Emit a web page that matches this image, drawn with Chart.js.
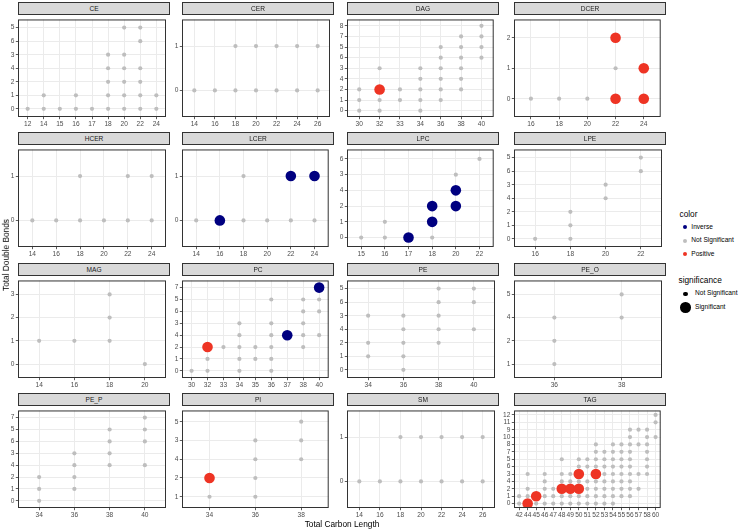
<!DOCTYPE html>
<html><head><meta charset="utf-8">
<script src="https://cdn.jsdelivr.net/npm/chart.js@4"></script>
<style>
body{margin:0;width:740px;height:530px;background:#fff;position:relative;overflow:hidden;font-family:'Liberation Sans',Arial,Helvetica,sans-serif;}
.strip{position:absolute;background:#D9D9D9;border:1px solid #333;box-sizing:border-box;font-size:6.6px;color:#1A1A1A;text-align:center;z-index:2;}
canvas{position:absolute;}
.t{position:absolute;white-space:nowrap;color:#000;z-index:3;}
.dot{position:absolute;border-radius:50%;z-index:3;}
</style></head><body>
<script>
// ---- data: carbon categories, double-bond levels (in the plot's factor order, bottom to top),
//      non-significant points [carbon, [bonds...]], significant points [carbon, bonds, direction] ----
const CE_x = [12,14,15,16,17,18,20,22,24];
const CE_y = [0,1,2,4,3,6,5];
const CE_ns = [[12,[0]],[14,[0,1]],[15,[0]],[16,[0,1]],[17,[0]],[18,[0,1,2,3,4]],[20,[0,1,2,3,4,5]],[22,[0,1,2,4,5,6]],[24,[0,1]]];
const CE_sig = [];

const CER_x = [14,16,18,20,22,24,26];
const CER_y = [0,1];
const CER_ns = [[14,[0]],[16,[0]],[18,[0,1]],[20,[0,1]],[22,[0,1]],[24,[0,1]],[26,[0,1]]];
const CER_sig = [];

const DAG_x = [30,32,33,34,36,38,40];
const DAG_y = [0,1,2,4,3,6,5,7,8];
const DAG_ns = [[30,[0,1,2]],[32,[0,1,3]],[33,[1,2]],[34,[0,1,2,3,4]],[36,[1,2,3,4,5,6]],[38,[2,3,4,5,6,7]],[40,[5,6,7,8]]];
const DAG_sig = [[32,2,'Positive']];

const DCER_x = [16,18,20,22,24];
const DCER_y = [0,1,2];
const DCER_ns = [[16,[0]],[18,[0]],[20,[0]],[22,[1]]];
const DCER_sig = [[22,0,'Positive'],[22,2,'Positive'],[24,0,'Positive'],[24,1,'Positive']];

const HCER_x = [14,16,18,20,22,24];
const HCER_y = [0,1];
const HCER_ns = [[14,[0]],[16,[0]],[18,[0,1]],[20,[0]],[22,[0,1]],[24,[0,1]]];
const HCER_sig = [];

const LCER_x = [14,16,18,20,22,24];
const LCER_y = [0,1];
const LCER_ns = [[14,[0]],[18,[0,1]],[20,[0]],[22,[0]],[24,[0]]];
const LCER_sig = [[16,0,'Inverse'],[22,1,'Inverse'],[24,1,'Inverse']];

const LPC_x = [15,16,17,18,20,22];
const LPC_y = [0,1,2,4,3,6];
const LPC_ns = [[15,[0]],[16,[0,1]],[18,[0]],[20,[3]],[22,[6]]];
const LPC_sig = [[17,0,'Inverse'],[18,1,'Inverse'],[18,2,'Inverse'],[20,2,'Inverse'],[20,4,'Inverse']];

const LPE_x = [16,18,20,22];
const LPE_y = [0,1,2,4,3,6,5];
const LPE_ns = [[16,[0]],[18,[0,1,2]],[20,[3,4]],[22,[5,6]]];
const LPE_sig = [];

const MAG_x = [14,16,18,20];
const MAG_y = [0,1,2,3];
const MAG_ns = [[14,[1]],[16,[1]],[18,[1,2,3]],[20,[0]]];
const MAG_sig = [];

const PC_x = [30,32,33,34,35,36,37,38,40];
const PC_y = [0,1,2,4,3,6,5,7];
const PC_ns = [[30,[0]],[32,[0,1]],[33,[2]],[34,[0,1,2,3,4]],[35,[1,2]],[36,[0,1,2,3,4,5]],[38,[2,3,4,5,6]],[40,[4,5,6]]];
const PC_sig = [[32,2,'Positive'],[37,4,'Inverse'],[40,7,'Inverse']];

const PE_x = [34,36,38,40];
const PE_y = [0,1,2,4,3,6,5];
const PE_ns = [[34,[1,2,3]],[36,[0,1,2,3,4]],[38,[2,3,4,5,6]],[40,[4,5,6]]];
const PE_sig = [];

const PE_O_x = [36,38];
const PE_O_y = [1,2,4,5];
const PE_O_ns = [[36,[1,2,4]],[38,[4,5]]];
const PE_O_sig = [];

const PE_P_x = [34,36,38,40];
const PE_P_y = [0,1,2,4,3,6,5,7];
const PE_P_ns = [[34,[0,1,2]],[36,[1,2,3,4]],[38,[3,4,5,6]],[40,[4,5,6,7]]];
const PE_P_sig = [];

const PI_x = [34,36,38];
const PI_y = [1,2,4,3,5];
const PI_ns = [[34,[1]],[36,[1,2,3,4]],[38,[3,4,5]]];
const PI_sig = [[34,2,'Positive']];

const SM_x = [14,16,18,20,22,24,26];
const SM_y = [0,1];
const SM_ns = [[14,[0]],[16,[0]],[18,[0,1]],[20,[0,1]],[22,[0,1]],[24,[0,1]],[26,[0,1]]];
const SM_sig = [];

const TAG_x = [42,44,45,46,47,48,49,50,51,52,53,54,55,56,57,58,60];
const TAG_y = [0,1,2,4,3,6,5,7,8,10,9,11,12];
const TAG_ns = [[42,[0,1]],[44,[1,2,3]],[45,[0]],[46,[0,1,2,3,4]],[47,[0,1,2]],[48,[0,1,3,4,5]],[49,[0,1,3,4]],
  [50,[0,1,4,5,6]],[51,[0,1,2,4,5,6]],[52,[0,1,2,4,5,6,7,8]],[53,[0,1,2,3,4,5,6,7]],[54,[0,1,2,3,4,5,6,7,8]],
  [55,[1,2,3,4,5,6,7,8]],[56,[1,2,3,4,5,6,7,8,9,10]],[57,[2,3,8,9]],[58,[3,5,6,7,8,9,10]],[60,[10,11,12]]];
const TAG_sig = [[44,0,'Positive'],[45,1,'Positive'],[48,2,'Positive'],[49,2,'Positive'],[50,2,'Positive'],[50,3,'Positive'],[52,3,'Positive']];

const panelNames = ['CE','CER','DAG','DCER','HCER','LCER','LPC','LPE','MAG','PC','PE','PE_O','PE_P','PI','SM','TAG'];
const panelData = [
  [CE_x,CE_y,CE_ns,CE_sig],[CER_x,CER_y,CER_ns,CER_sig],[DAG_x,DAG_y,DAG_ns,DAG_sig],[DCER_x,DCER_y,DCER_ns,DCER_sig],
  [HCER_x,HCER_y,HCER_ns,HCER_sig],[LCER_x,LCER_y,LCER_ns,LCER_sig],[LPC_x,LPC_y,LPC_ns,LPC_sig],[LPE_x,LPE_y,LPE_ns,LPE_sig],
  [MAG_x,MAG_y,MAG_ns,MAG_sig],[PC_x,PC_y,PC_ns,PC_sig],[PE_x,PE_y,PE_ns,PE_sig],[PE_O_x,PE_O_y,PE_O_ns,PE_O_sig],
  [PE_P_x,PE_P_y,PE_P_ns,PE_P_sig],[PI_x,PI_y,PI_ns,PI_sig],[SM_x,SM_y,SM_ns,SM_sig],[TAG_x,TAG_y,TAG_ns,TAG_sig]
];
const colorNames = ['Inverse','Not Significant','Positive'];
const sigNames = ['Not Significant','Significant'];

// ---- style ----
const FONT = "'Liberation Sans', Arial, Helvetica, sans-serif";
const COLORS = {'Inverse':'#000080','Not Significant':'#BEBEBE','Positive':'#EE3424'};
const R_SMALL = 2.1, R_BIG = 5.3;
const colLeft = [18,182,347,514];
const panelTop = [14,144,275,405];
const PW = 152, PH = 103, YW = 12, XH = 13, STRIP = 12;

const borderPlugin = {
  id:'panelBorder',
  afterDraw(chart){
    const a = chart.chartArea, ctx = chart.ctx;
    ctx.save(); ctx.strokeStyle = '#333'; ctx.lineWidth = 1;
    ctx.strokeRect(a.left+0.5, a.top+0.5, a.right-a.left-1, a.bottom-a.top-1);
    ctx.restore();
  }
};

function axis(labels, isX){
  const o = {
    type:'linear', min:-0.6, max:labels.length-0.4,
    afterBuildTicks: s => { s.ticks = labels.map((_,i)=>({value:i})); },
    ticks:{callback:v=>String(labels[v]), font:{size:6.6,family:FONT}, color:'#4D4D4D', padding:1.5,
           autoSkip:false, maxRotation:0, minRotation:0},
    grid:{color:'#EBEBEB', lineWidth:1, tickColor:'#333', tickLength:2.2, tickWidth:0.8, drawTicks:true},
    border:{display:false}
  };
  if (isX) o.afterFit = s => { s.height = XH; }; else o.afterFit = s => { s.width = YW; };
  return o;
}

panelNames.forEach((name, i) => {
  const [xl, yl, ns, sig] = panelData[i];
  const r = Math.floor(i/4), c = i%4;
  const strip = document.createElement('div');
  strip.className = 'strip';
  strip.style.left = colLeft[c]+'px'; strip.style.top = (panelTop[r]-STRIP)+'px';
  strip.style.width = PW+'px'; strip.style.height = (STRIP+1)+'px';
  strip.style.lineHeight = (STRIP-1)+'px';
  strip.textContent = name;
  document.body.appendChild(strip);

  const cv = document.createElement('canvas');
  cv.width = YW+PW; cv.height = PH+XH;
  cv.style.left = (colLeft[c]-YW)+'px'; cv.style.top = panelTop[r]+'px';
  document.body.appendChild(cv);

  const nsPts = [];
  ns.forEach(([cb, list]) => list.forEach(d => nsPts.push({x:xl.indexOf(cb), y:yl.indexOf(d)})));
  const datasets = [{data:nsPts, backgroundColor:COLORS['Not Significant'], pointRadius:R_SMALL, pointBorderWidth:0}];
  ['Inverse','Positive'].forEach(k => {
    const pts = sig.filter(p=>p[2]===k).map(p=>({x:xl.indexOf(p[0]), y:yl.indexOf(p[1])}));
    if (pts.length) datasets.push({data:pts, backgroundColor:COLORS[k], pointRadius:R_BIG, pointBorderWidth:0});
  });

  new Chart(cv, {
    type:'scatter',
    data:{datasets},
    options:{
      responsive:false, animation:false, devicePixelRatio:1, events:[],
      layout:{padding:0},
      plugins:{legend:{display:false}, tooltip:{enabled:false}},
      scales:{x:axis(xl,true), y:axis(yl,false)}
    },
    plugins:[borderPlugin]
  });
});

// ---- titles and legend ----
function txt(s, x, y, size, extra){
  const d = document.createElement('div'); d.className='t'; d.textContent=s;
  d.style.left=x+'px'; d.style.top=y+'px'; d.style.fontSize=size+'px'; d.style.lineHeight='1';
  if (extra) Object.assign(d.style, extra);
  document.body.appendChild(d); return d;
}
function dot(cx, cy, r, col){
  const d = document.createElement('div'); d.className='dot';
  d.style.left=(cx-r)+'px'; d.style.top=(cy-r)+'px'; d.style.width=(2*r)+'px'; d.style.height=(2*r)+'px';
  d.style.background=col; document.body.appendChild(d);
}
txt('Total Carbon Length', 342, 519.5, 8.3, {transform:'translateX(-50%)'});
txt('Total Double Bonds', 5.5, 255, 8.3, {transform:'translate(-50%,-50%) rotate(-90deg)'});

txt('color', 679.5, 209.5, 8.3);
const colY = [227.3, 240.7, 254];
colorNames.forEach((n,k)=>{ dot(685, colY[k], R_SMALL, COLORS[n]); txt(n, 691.3, colY[k]-3.4, 6.6); });
txt('significance', 678.5, 275.5, 8.3);
const sigY = [293.7, 307.7];
sigNames.forEach((n,k)=>{ dot(685.5, sigY[k], k ? R_BIG : R_SMALL, '#000'); txt(n, 695, sigY[k]-3.4, 6.6); });
</script>
</body></html>
